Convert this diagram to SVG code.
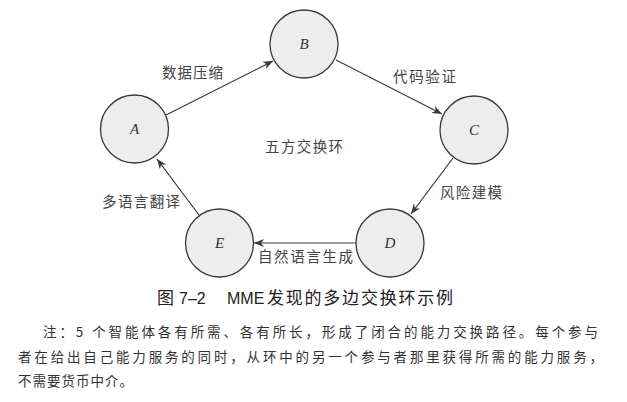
<svg xmlns="http://www.w3.org/2000/svg" width="627" height="402" viewBox="0 0 627 402">
<style>
.node circle{fill:#ededed;stroke:#3a3a3a;stroke-width:1.3}
.nl{font-family:"Liberation Serif",serif;font-style:italic;font-size:15px;fill:#333;text-anchor:middle}
.el{font-family:"Noto Sans CJK SC",sans-serif;font-size:14.5px;fill:#444}
.conn line{stroke:#3a3a3a;stroke-width:1.2;marker-end:url(#ah)}
.cap{font-family:"Liberation Sans","Noto Sans CJK SC",sans-serif;font-size:17px;fill:#222}
.lat{font-size:16px}
.note{font-family:"Noto Sans CJK SC",sans-serif;font-size:13.5px;fill:#333}
</style>
<defs>
<marker id="ah" markerWidth="12" markerHeight="10" refX="10" refY="4" orient="auto" markerUnits="userSpaceOnUse">
<path d="M0,0 L10,4 L0,8 L3,4 z" fill="#3a3a3a"/>
</marker>
</defs>
<g class="conn">
<line x1="166" y1="115" x2="273" y2="61"/>
<line x1="336" y1="60" x2="442" y2="114"/>
<line x1="453" y1="158" x2="411" y2="214"/>
<line x1="356" y1="243" x2="254" y2="243"/>
<line x1="199" y1="215" x2="157" y2="159"/>
</g>
<g id="node-A" class="node"><circle cx="134.5" cy="129" r="34"/><text class="nl" x="134.5" y="134">A</text></g>
<g id="node-B" class="node"><circle cx="304" cy="44" r="34"/><text class="nl" x="304" y="49">B</text></g>
<g id="node-C" class="node"><circle cx="474" cy="130" r="34"/><text class="nl" x="474" y="135">C</text></g>
<g id="node-D" class="node"><circle cx="390" cy="243" r="34"/><text class="nl" x="390" y="248">D</text></g>
<g id="node-E" class="node"><circle cx="219.5" cy="243" r="34"/><text class="nl" x="219.5" y="248">E</text></g>
<g id="labels">
<text class="el" x="162" y="78" textLength="61">数据压缩</text>
<text class="el" x="393" y="82" textLength="63">代码验证</text>
<text class="el" x="265" y="152" textLength="78">五方交换环</text>
<text class="el" x="440" y="198" textLength="62">风险建模</text>
<text class="el" x="102" y="207" textLength="78">多语言翻译</text>
<text class="el" x="258" y="262" textLength="95">自然语言生成</text>
</g>
<g id="caption" class="cap">
<text x="157" y="304">图</text>
<text class="lat" x="179" y="304">7–2</text>
<text class="lat" x="227" y="304">MME</text>
<text x="267" y="304" textLength="186">发现的多边交换环示例</text>
</g>
<text class="note" x="43" y="337" textLength="555">注：5 个智能体各有所需、各有所长，形成了闭合的能力交换路径。每个参与</text>
<text class="note" x="18" y="362" textLength="585">者在给出自己能力服务的同时，从环中的另一个参与者那里获得所需的能力服务，</text>
<text class="note" x="18" y="386" textLength="115">不需要货币中介。</text>
</svg>
